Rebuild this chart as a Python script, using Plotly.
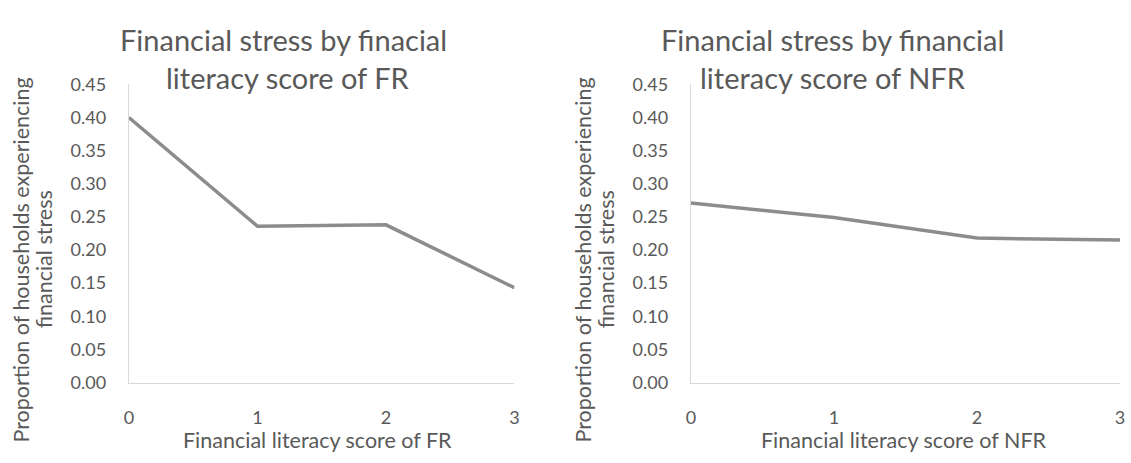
import plotly.graph_objects as go

scores = [0, 1, 2, 3]
fr_stress = [0.400, 0.236, 0.238, 0.143]
nfr_stress = [0.271, 0.249, 0.218, 0.215]

title_fr = ["Financial stress by finacial", "literacy score of FR"]
title_nfr = ["Financial stress by financial", "literacy score of NFR"]
xtitle_fr = "Financial literacy score of FR"
xtitle_nfr = "Financial literacy score of NFR"
ytitle_lines = ["Proportion of households experiencing", "financial stress"]

W, H = 1131, 463
FONT = "Lato"
TXT = "#595959"
LINE = "#8c8c8c"
AX = "#d9d9d9"

def px(x):
    return x / W

def py(y):
    return 1 - y / H

fig = go.Figure()
fig.add_trace(go.Scatter(x=scores, y=fr_stress, mode="lines", xaxis="x", yaxis="y",
                         line=dict(color=LINE, width=3.5), showlegend=False))
fig.add_trace(go.Scatter(x=scores, y=nfr_stress, mode="lines", xaxis="x2", yaxis="y2",
                         line=dict(color=LINE, width=3.5), showlegend=False))

ydom = [py(389), py(76)]
common_x = dict(range=[0, 3], dtick=1, tick0=0, showgrid=False, zeroline=False,
                showline=True, linecolor=AX, linewidth=1.3, ticks="",
                ticklabelstandoff=19, ticklabeloverflow="allow",
                tickfont=dict(family=FONT, size=18, color=TXT))
common_y = dict(range=[0, 0.45], dtick=0.05, tick0=0, tickformat=".2f", showgrid=False,
                zeroline=False, showline=True, linecolor=AX, linewidth=1.3, ticks="",
                ticklabelstandoff=18, ticklabeloverflow="allow",
                tickfont=dict(family=FONT, size=18, color=TXT))

fig.update_layout(
    width=W, height=H,
    margin=dict(l=0, r=0, t=0, b=0),
    paper_bgcolor="white", plot_bgcolor="white",
    xaxis=dict(domain=[px(125), px(514)], anchor="y", **common_x),
    yaxis=dict(domain=ydom, anchor="x", **common_y),
    xaxis2=dict(domain=[px(692), px(1125)], anchor="y2", **common_x),
    yaxis2=dict(domain=ydom, anchor="x2", **common_y),
)

ann = []
def add_text(text, x, y, size, angle=0):
    ann.append(dict(text=text, x=px(x), y=py(y), xref="paper", yref="paper",
                    xanchor="center", yanchor="middle", showarrow=False,
                    textangle=angle, font=dict(family=FONT, size=size, color=TXT)))

# chart titles
add_text(title_fr[0], 281, 29, 29)
add_text(title_fr[1], 286, 69, 29)
add_text(title_nfr[0], 835, 29, 29)
add_text(title_nfr[1], 835, 69, 29)
# x-axis titles
add_text(xtitle_fr, 315, 449, 21.5)
add_text(xtitle_nfr, 907, 449, 21.5)
# y-axis titles
for xoff, line in zip([16, 39], ytitle_lines):
    add_text(line, xoff, 260, 21.5, -90)
    add_text(line, xoff + 567, 260, 21.5, -90)

fig.update_layout(annotations=ann)
fig.write_html("out.html", config={"displayModeBar": False},
               post_script="document.body.style.margin='0';document.body.style.overflow='hidden';")
